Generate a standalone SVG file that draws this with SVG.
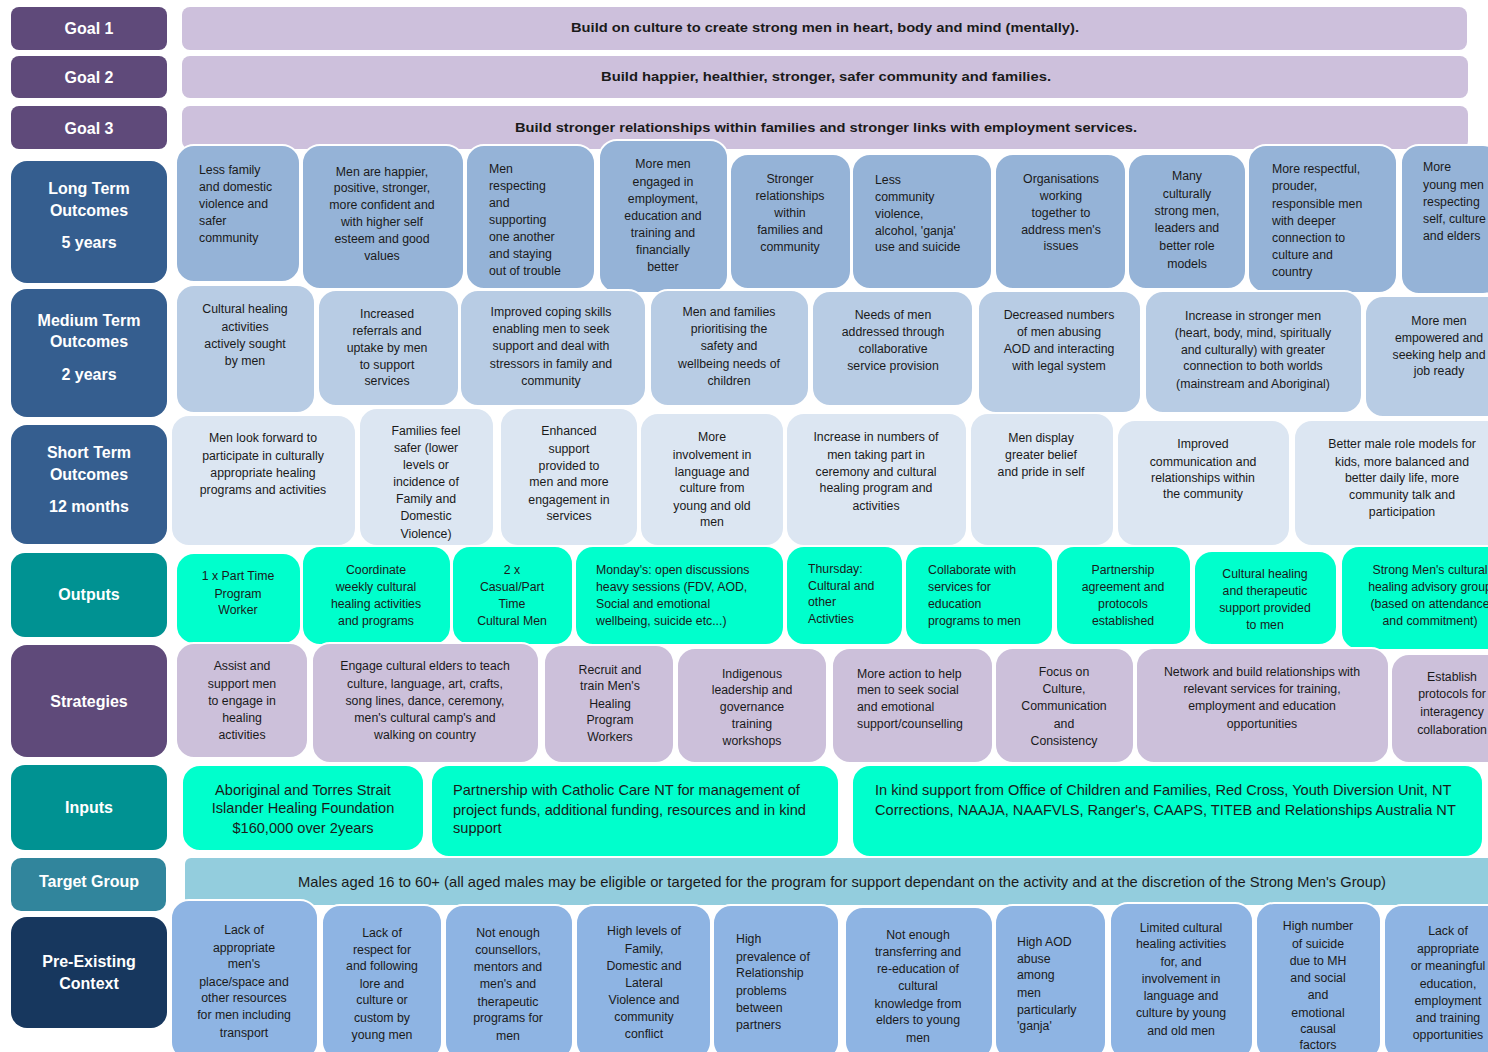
<svg xmlns="http://www.w3.org/2000/svg" width="1488" height="1052" viewBox="0 0 1488 1052">
<style>
text{font-family:"Liberation Sans",Arial,sans-serif;}
.h{fill:#fff;font-weight:bold;font-size:16px;text-anchor:middle;}
.g{font-weight:bold;font-size:13px;fill:#1a1a1a;text-anchor:middle;}
.t{font-size:12.3px;fill:#1a1a1a;}
.c{text-anchor:middle;}
.i{font-size:14.6px;fill:#1a1a1a;}
.hp{fill:#5f4a7a;}
.hb{fill:#355e8f;}
.ht{fill:#009292;}
.htg{fill:#31859c;}
.hn{fill:#17375e;}
.gb{fill:#cdc0dc;}
.lt{fill:#95b3d7;stroke:#fff;stroke-width:2;}
.mt{fill:#b8cce4;stroke:#fff;stroke-width:2;}
.st{fill:#dce6f2;stroke:#fff;stroke-width:2;}
.op{fill:#00ffcc;stroke:#fff;stroke-width:2;}
.sg{fill:#ccc0da;stroke:#fff;stroke-width:2;}
.tg{fill:#93cddd;}
.pc{fill:#8eb4e3;stroke:#fff;stroke-width:2;}
</style>
<rect width="1488" height="1052" fill="#fff"/>
<g id="connectors"></g>

<!-- Headers -->
<g id="h-goal1"><rect class="hp" x="11" y="7" width="156" height="43" rx="8"/><text class="h" x="89" y="34" font-size="15">Goal 1</text></g>
<g id="h-goal2"><rect class="hp" x="11" y="56" width="156" height="42" rx="8"/><text class="h" x="89" y="83" font-size="15">Goal 2</text></g>
<g id="h-goal3"><rect class="hp" x="11" y="106" width="156" height="43" rx="8"/><text class="h" x="89" y="134" font-size="15">Goal 3</text></g>
<g id="h-long"><rect class="hb" x="11" y="161" width="156" height="122" rx="16"/><text class="h"><tspan x="89" y="194">Long Term</tspan><tspan x="89" y="216">Outcomes</tspan><tspan x="89" y="248">5 years</tspan></text></g>
<g id="h-medium"><rect class="hb" x="11" y="289" width="156" height="128" rx="16"/><text class="h"><tspan x="89" y="326">Medium Term</tspan><tspan x="89" y="347">Outcomes</tspan><tspan x="89" y="380">2 years</tspan></text></g>
<g id="h-short"><rect class="hb" x="11" y="425" width="156" height="119" rx="16"/><text class="h"><tspan x="89" y="458">Short Term</tspan><tspan x="89" y="480">Outcomes</tspan><tspan x="89" y="512">12 months</tspan></text></g>
<g id="h-outputs"><rect class="ht" x="11" y="553" width="156" height="84" rx="14"/><text class="h" x="89" y="600">Outputs</text></g>
<g id="h-strategies"><rect class="hp" x="11" y="645" width="156" height="112" rx="16"/><text class="h" x="89" y="707">Strategies</text></g>
<g id="h-inputs"><rect class="ht" x="11" y="765" width="156" height="85" rx="14"/><text class="h" x="89" y="813">Inputs</text></g>
<g id="h-target"><rect class="htg" x="11" y="858" width="155" height="53" rx="10"/><text class="h" x="89" y="887">Target Group</text></g>
<g id="h-context"><rect class="hn" x="11" y="917" width="156" height="111" rx="16"/><text class="h"><tspan x="89" y="967">Pre-Existing</tspan><tspan x="89" y="989">Context</tspan></text></g>

<!-- Goals -->
<g id="goal1"><rect class="gb" x="182" y="7" width="1285" height="43" rx="8"/><text class="g" x="825" y="32" textLength="508" lengthAdjust="spacingAndGlyphs">Build on culture to create strong men in heart, body and mind (mentally).</text></g>
<g id="goal2"><rect class="gb" x="182" y="56" width="1286" height="42" rx="8"/><text class="g" x="826" y="81" textLength="450" lengthAdjust="spacingAndGlyphs">Build happier, healthier, stronger, safer community and families.</text></g>
<g id="goal3"><rect class="gb" x="182" y="106" width="1286" height="43" rx="8"/><text class="g" x="826" y="132" textLength="622" lengthAdjust="spacingAndGlyphs">Build stronger relationships within families and stronger links with employment services.</text></g>

<!-- Long term outcomes -->
<g id="lt1"><rect class="lt" x="176" y="145" width="124" height="137" rx="18"/><text class="t"><tspan x="199" y="174">Less family</tspan><tspan x="199" y="191">and domestic</tspan><tspan x="199" y="208">violence and</tspan><tspan x="199" y="225">safer</tspan><tspan x="199" y="242">community</tspan></text></g>
<g id="lt2"><rect class="lt" x="302" y="145" width="162" height="144" rx="18"/><text class="t c"><tspan x="382" y="176">Men are happier,</tspan><tspan x="382" y="192">positive, stronger,</tspan><tspan x="382" y="209">more confident and</tspan><tspan x="382" y="226">with higher self</tspan><tspan x="382" y="243">esteem and good</tspan><tspan x="382" y="260">values</tspan></text></g>
<g id="lt3"><rect class="lt" x="466" y="145" width="129" height="144" rx="18"/><text class="t"><tspan x="489" y="173">Men</tspan><tspan x="489" y="190">respecting</tspan><tspan x="489" y="207">and</tspan><tspan x="489" y="224">supporting</tspan><tspan x="489" y="241">one another</tspan><tspan x="489" y="258">and staying</tspan><tspan x="489" y="275">out of trouble</tspan></text></g>
<g id="lt4"><rect class="lt" x="599" y="140" width="129" height="153" rx="18"/><text class="t c"><tspan x="663" y="168">More men</tspan><tspan x="663" y="186">engaged in</tspan><tspan x="663" y="203">employment,</tspan><tspan x="663" y="220">education and</tspan><tspan x="663" y="237">training and</tspan><tspan x="663" y="254">financially</tspan><tspan x="663" y="271">better</tspan></text></g>
<g id="lt5"><rect class="lt" x="730" y="154" width="121" height="135" rx="18"/><text class="t c"><tspan x="790" y="183">Stronger</tspan><tspan x="790" y="200">relationships</tspan><tspan x="790" y="217">within</tspan><tspan x="790" y="234">families and</tspan><tspan x="790" y="251">community</tspan></text></g>
<g id="lt6"><rect class="lt" x="852" y="154" width="140" height="135" rx="18"/><text class="t"><tspan x="875" y="184">Less</tspan><tspan x="875" y="201">community</tspan><tspan x="875" y="218">violence,</tspan><tspan x="875" y="235">alcohol, 'ganja'</tspan><tspan x="875" y="251">use and suicide</tspan></text></g>
<g id="lt7"><rect class="lt" x="995" y="154" width="131" height="135" rx="18"/><text class="t c"><tspan x="1061" y="183">Organisations</tspan><tspan x="1061" y="200">working</tspan><tspan x="1061" y="217">together to</tspan><tspan x="1061" y="234">address men's</tspan><tspan x="1061" y="250">issues</tspan></text></g>
<g id="lt8"><rect class="lt" x="1128" y="154" width="118" height="135" rx="18"/><text class="t c"><tspan x="1187" y="180">Many</tspan><tspan x="1187" y="198">culturally</tspan><tspan x="1187" y="215">strong men,</tspan><tspan x="1187" y="232">leaders and</tspan><tspan x="1187" y="250">better role</tspan><tspan x="1187" y="268">models</tspan></text></g>
<g id="lt9"><rect class="lt" x="1248" y="145" width="149" height="148" rx="18"/><text class="t"><tspan x="1272" y="173">More respectful,</tspan><tspan x="1272" y="190">prouder,</tspan><tspan x="1272" y="208">responsible men</tspan><tspan x="1272" y="225">with deeper</tspan><tspan x="1272" y="242">connection to</tspan><tspan x="1272" y="259">culture and</tspan><tspan x="1272" y="276">country</tspan></text></g>
<g id="lt10"><rect class="lt" x="1401" y="145" width="100" height="149" rx="18"/><text class="t"><tspan x="1423" y="171">More</tspan><tspan x="1423" y="189">young men</tspan><tspan x="1423" y="206">respecting</tspan><tspan x="1423" y="223">self, culture</tspan><tspan x="1423" y="240">and elders</tspan></text></g>

<!-- Medium term outcomes -->
<g id="mt1"><rect class="mt" x="176" y="285" width="139" height="128" rx="18"/><text class="t c"><tspan x="245" y="313">Cultural healing</tspan><tspan x="245" y="331">activities</tspan><tspan x="245" y="348">actively sought</tspan><tspan x="245" y="365">by men</tspan></text></g>
<g id="mt2"><rect class="mt" x="318" y="290" width="141" height="116" rx="18"/><text class="t c"><tspan x="387" y="318">Increased</tspan><tspan x="387" y="335">referrals and</tspan><tspan x="387" y="352">uptake by men</tspan><tspan x="387" y="369">to support</tspan><tspan x="387" y="385">services</tspan></text></g>
<g id="mt3"><rect class="mt" x="460" y="290" width="186" height="116" rx="18"/><text class="t c"><tspan x="551" y="316">Improved coping skills</tspan><tspan x="551" y="333">enabling men to seek</tspan><tspan x="551" y="350">support and deal with</tspan><tspan x="551" y="368">stressors in family and</tspan><tspan x="551" y="385">community</tspan></text></g>
<g id="mt4"><rect class="mt" x="650" y="290" width="159" height="116" rx="18"/><text class="t c"><tspan x="729" y="316">Men and families</tspan><tspan x="729" y="333">prioritising the</tspan><tspan x="729" y="350">safety and</tspan><tspan x="729" y="368">wellbeing needs of</tspan><tspan x="729" y="385">children</tspan></text></g>
<g id="mt5"><rect class="mt" x="812" y="291" width="161" height="115" rx="18"/><text class="t c"><tspan x="893" y="319">Needs of men</tspan><tspan x="893" y="336">addressed through</tspan><tspan x="893" y="353">collaborative</tspan><tspan x="893" y="370">service provision</tspan></text></g>
<g id="mt6"><rect class="mt" x="978" y="291" width="163" height="122" rx="18"/><text class="t c"><tspan x="1059" y="319">Decreased numbers</tspan><tspan x="1059" y="336">of men abusing</tspan><tspan x="1059" y="353">AOD and interacting</tspan><tspan x="1059" y="370">with legal system</tspan></text></g>
<g id="mt7"><rect class="mt" x="1145" y="291" width="217" height="122" rx="18"/><text class="t c"><tspan x="1253" y="320">Increase in stronger men</tspan><tspan x="1253" y="337">(heart, body, mind, spiritually</tspan><tspan x="1253" y="354">and culturally) with greater</tspan><tspan x="1253" y="370">connection to both worlds</tspan><tspan x="1253" y="388">(mainstream and Aboriginal)</tspan></text></g>
<g id="mt8"><rect class="mt" x="1365" y="296" width="140" height="121" rx="18"/><text class="t c"><tspan x="1439" y="325">More men</tspan><tspan x="1439" y="342">empowered and</tspan><tspan x="1439" y="359">seeking help and</tspan><tspan x="1439" y="375">job ready</tspan></text></g>

<!-- Short term outcomes -->
<g id="st1"><rect class="st" x="171" y="415" width="185" height="131" rx="18"/><text class="t c"><tspan x="263" y="442">Men look forward to</tspan><tspan x="263" y="460">participate in culturally</tspan><tspan x="263" y="477">appropriate healing</tspan><tspan x="263" y="494">programs and activities</tspan></text></g>
<g id="st2"><rect class="st" x="359" y="408" width="135" height="138" rx="18"/><text class="t c"><tspan x="426" y="435">Families feel</tspan><tspan x="426" y="452">safer (lower</tspan><tspan x="426" y="469">levels or</tspan><tspan x="426" y="486">incidence of</tspan><tspan x="426" y="503">Family and</tspan><tspan x="426" y="520">Domestic</tspan><tspan x="426" y="538">Violence)</tspan></text></g>
<g id="st3"><rect class="st" x="500" y="408" width="138" height="138" rx="18"/><text class="t c"><tspan x="569" y="435">Enhanced</tspan><tspan x="569" y="453">support</tspan><tspan x="569" y="470">provided to</tspan><tspan x="569" y="486">men and more</tspan><tspan x="569" y="504">engagement in</tspan><tspan x="569" y="520">services</tspan></text></g>
<g id="st4"><rect class="st" x="640" y="413" width="144" height="133" rx="18"/><text class="t c"><tspan x="712" y="441">More</tspan><tspan x="712" y="459">involvement in</tspan><tspan x="712" y="476">language and</tspan><tspan x="712" y="492">culture from</tspan><tspan x="712" y="510">young and old</tspan><tspan x="712" y="526">men</tspan></text></g>
<g id="st5"><rect class="st" x="786" y="413" width="181" height="133" rx="18"/><text class="t c"><tspan x="876" y="441">Increase in numbers of</tspan><tspan x="876" y="459">men taking part in</tspan><tspan x="876" y="476">ceremony and cultural</tspan><tspan x="876" y="492">healing program and</tspan><tspan x="876" y="510">activities</tspan></text></g>
<g id="st6"><rect class="st" x="970" y="413" width="144" height="133" rx="18"/><text class="t c"><tspan x="1041" y="442">Men display</tspan><tspan x="1041" y="459">greater belief</tspan><tspan x="1041" y="476">and pride in self</tspan></text></g>
<g id="st7"><rect class="st" x="1117" y="420" width="173" height="126" rx="18"/><text class="t c"><tspan x="1203" y="448">Improved</tspan><tspan x="1203" y="466">communication and</tspan><tspan x="1203" y="482">relationships within</tspan><tspan x="1203" y="498">the community</tspan></text></g>
<g id="st8"><rect class="st" x="1294" y="420" width="210" height="126" rx="18"/><text class="t c"><tspan x="1402" y="448">Better male role models for</tspan><tspan x="1402" y="466">kids, more balanced and</tspan><tspan x="1402" y="482">better daily life, more</tspan><tspan x="1402" y="499">community talk and</tspan><tspan x="1402" y="516">participation</tspan></text></g>

<!-- Outputs -->
<g id="op1"><rect class="op" x="176" y="553" width="125" height="91" rx="18"/><text class="t c"><tspan x="238" y="580">1 x Part Time</tspan><tspan x="238" y="598">Program</tspan><tspan x="238" y="614">Worker</tspan></text></g>
<g id="op2"><rect class="op" x="302" y="546" width="149" height="99" rx="18"/><text class="t c"><tspan x="376" y="574">Coordinate</tspan><tspan x="376" y="591">weekly cultural</tspan><tspan x="376" y="608">healing activities</tspan><tspan x="376" y="625">and programs</tspan></text></g>
<g id="op3"><rect class="op" x="452" y="546" width="121" height="99" rx="18"/><text class="t c"><tspan x="512" y="574">2 x</tspan><tspan x="512" y="591">Casual/Part</tspan><tspan x="512" y="608">Time</tspan><tspan x="512" y="625">Cultural Men</tspan></text></g>
<g id="op4"><rect class="op" x="575" y="546" width="209" height="99" rx="18"/><text class="t"><tspan x="596" y="574">Monday's: open discussions</tspan><tspan x="596" y="591">heavy sessions (FDV, AOD,</tspan><tspan x="596" y="608">Social and emotional</tspan><tspan x="596" y="625">wellbeing, suicide etc...)</tspan></text></g>
<g id="op5"><rect class="op" x="786" y="546" width="117" height="99" rx="18"/><text class="t"><tspan x="808" y="573">Thursday:</tspan><tspan x="808" y="590">Cultural and</tspan><tspan x="808" y="606">other</tspan><tspan x="808" y="623">Activties</tspan></text></g>
<g id="op6"><rect class="op" x="905" y="546" width="148" height="99" rx="18"/><text class="t"><tspan x="928" y="574">Collaborate with</tspan><tspan x="928" y="591">services for</tspan><tspan x="928" y="608">education</tspan><tspan x="928" y="625">programs to men</tspan></text></g>
<g id="op7"><rect class="op" x="1056" y="546" width="135" height="99" rx="18"/><text class="t c"><tspan x="1123" y="574">Partnership</tspan><tspan x="1123" y="591">agreement and</tspan><tspan x="1123" y="608">protocols</tspan><tspan x="1123" y="625">established</tspan></text></g>
<g id="op8"><rect class="op" x="1194" y="551" width="143" height="94" rx="18"/><text class="t c"><tspan x="1265" y="578">Cultural healing</tspan><tspan x="1265" y="595">and therapeutic</tspan><tspan x="1265" y="612">support provided</tspan><tspan x="1265" y="629">to men</tspan></text></g>
<g id="op9"><rect class="op" x="1341" y="546" width="165" height="104" rx="18"/><text class="t c"><tspan x="1430" y="574">Strong Men's cultural</tspan><tspan x="1430" y="591">healing advisory group</tspan><tspan x="1430" y="608">(based on attendance</tspan><tspan x="1430" y="625">and commitment)</tspan></text></g>

<!-- Strategies -->
<g id="sg1"><rect class="sg" x="176" y="643" width="132" height="115" rx="18"/><text class="t c"><tspan x="242" y="670">Assist and</tspan><tspan x="242" y="688">support men</tspan><tspan x="242" y="705">to engage in</tspan><tspan x="242" y="722">healing</tspan><tspan x="242" y="739">activities</tspan></text></g>
<g id="sg2"><rect class="sg" x="312" y="643" width="227" height="120" rx="18"/><text class="t c"><tspan x="425" y="670">Engage cultural elders to teach</tspan><tspan x="425" y="688">culture, language, art, crafts,</tspan><tspan x="425" y="705">song lines, dance, ceremony,</tspan><tspan x="425" y="722">men's cultural camp's and</tspan><tspan x="425" y="739">walking on country</tspan></text></g>
<g id="sg3"><rect class="sg" x="544" y="645" width="130" height="118" rx="18"/><text class="t c"><tspan x="610" y="674">Recruit and</tspan><tspan x="610" y="690">train Men's</tspan><tspan x="610" y="708">Healing</tspan><tspan x="610" y="724">Program</tspan><tspan x="610" y="741">Workers</tspan></text></g>
<g id="sg4"><rect class="sg" x="677" y="648" width="150" height="115" rx="18"/><text class="t c"><tspan x="752" y="678">Indigenous</tspan><tspan x="752" y="694">leadership and</tspan><tspan x="752" y="711">governance</tspan><tspan x="752" y="728">training</tspan><tspan x="752" y="745">workshops</tspan></text></g>
<g id="sg5"><rect class="sg" x="832" y="648" width="161" height="115" rx="18"/><text class="t"><tspan x="857" y="678">More action to help</tspan><tspan x="857" y="694">men to seek social</tspan><tspan x="857" y="711">and emotional</tspan><tspan x="857" y="728">support/counselling</tspan></text></g>
<g id="sg6"><rect class="sg" x="995" y="648" width="139" height="115" rx="18"/><text class="t c"><tspan x="1064" y="676">Focus on</tspan><tspan x="1064" y="693">Culture,</tspan><tspan x="1064" y="710">Communication</tspan><tspan x="1064" y="728">and</tspan><tspan x="1064" y="745">Consistency</tspan></text></g>
<g id="sg7"><rect class="sg" x="1136" y="648" width="253" height="115" rx="18"/><text class="t c"><tspan x="1262" y="676">Network and build relationships with</tspan><tspan x="1262" y="693">relevant services for training,</tspan><tspan x="1262" y="710">employment and education</tspan><tspan x="1262" y="728">opportunities</tspan></text></g>
<g id="sg8"><rect class="sg" x="1391" y="654" width="115" height="109" rx="18"/><text class="t c"><tspan x="1452" y="681">Establish</tspan><tspan x="1452" y="698">protocols for</tspan><tspan x="1452" y="716">interagency</tspan><tspan x="1452" y="734">collaboration</tspan></text></g>

<!-- Inputs -->
<g id="in1"><rect class="op" x="182" y="765" width="242" height="86" rx="18"/><text class="i c"><tspan x="303" y="795">Aboriginal and Torres Strait</tspan><tspan x="303" y="813">Islander Healing Foundation</tspan><tspan x="303" y="833">$160,000 over 2years</tspan></text></g>
<g id="in2"><rect class="op" x="431" y="765" width="408" height="92" rx="18"/><text class="i"><tspan x="453" y="795">Partnership with Catholic Care NT for management of</tspan><tspan x="453" y="815">project funds, additional funding, resources and in kind</tspan><tspan x="453" y="833">support</tspan></text></g>
<g id="in3"><rect class="op" x="852" y="765" width="631" height="92" rx="18"/><text class="i"><tspan x="875" y="795">In kind support from Office of Children and Families, Red Cross, Youth Diversion Unit, NT</tspan><tspan x="875" y="815">Corrections, NAAJA, NAAFVLS, Ranger's, CAAPS, TITEB and Relationships Australia NT</tspan></text></g>

<!-- Target group -->
<g id="target"><rect class="tg" x="185" y="858" width="1310" height="47" rx="6"/><text class="i" x="298" y="887" textLength="1088" lengthAdjust="spacingAndGlyphs">Males aged 16 to 60+ (all aged males may be eligible or targeted for the program for support dependant on the activity and at the discretion of the Strong Men's Group)</text></g>

<!-- Pre-existing context -->
<g id="pc1"><rect class="pc" x="171" y="900" width="147" height="160" rx="18"/><text class="t c"><tspan x="244" y="934">Lack of</tspan><tspan x="244" y="952">appropriate</tspan><tspan x="244" y="968">men's</tspan><tspan x="244" y="986">place/space and</tspan><tspan x="244" y="1002">other resources</tspan><tspan x="244" y="1019">for men including</tspan><tspan x="244" y="1037">transport</tspan></text></g>
<g id="pc2"><rect class="pc" x="322" y="905" width="120" height="155" rx="18"/><text class="t c"><tspan x="382" y="937">Lack of</tspan><tspan x="382" y="954">respect for</tspan><tspan x="382" y="970">and following</tspan><tspan x="382" y="988">lore and</tspan><tspan x="382" y="1004">culture or</tspan><tspan x="382" y="1022">custom by</tspan><tspan x="382" y="1039">young men</tspan></text></g>
<g id="pc3"><rect class="pc" x="445" y="905" width="128" height="155" rx="18"/><text class="t c"><tspan x="508" y="937">Not enough</tspan><tspan x="508" y="954">counsellors,</tspan><tspan x="508" y="971">mentors and</tspan><tspan x="508" y="988">men's and</tspan><tspan x="508" y="1006">therapeutic</tspan><tspan x="508" y="1022">programs for</tspan><tspan x="508" y="1040">men</tspan></text></g>
<g id="pc4"><rect class="pc" x="576" y="905" width="135" height="155" rx="18"/><text class="t c"><tspan x="644" y="935">High levels of</tspan><tspan x="644" y="953">Family,</tspan><tspan x="644" y="970">Domestic  and</tspan><tspan x="644" y="987">Lateral</tspan><tspan x="644" y="1004">Violence and</tspan><tspan x="644" y="1021">community</tspan><tspan x="644" y="1038">conflict</tspan></text></g>
<g id="pc5"><rect class="pc" x="713" y="905" width="126" height="155" rx="18"/><text class="t"><tspan x="736" y="943">High</tspan><tspan x="736" y="961">prevalence of</tspan><tspan x="736" y="977">Relationship</tspan><tspan x="736" y="995">problems</tspan><tspan x="736" y="1012">between</tspan><tspan x="736" y="1029">partners</tspan></text></g>
<g id="pc6"><rect class="pc" x="845" y="907" width="148" height="153" rx="18"/><text class="t c"><tspan x="918" y="939">Not enough</tspan><tspan x="918" y="956">transferring and</tspan><tspan x="918" y="973">re-education of</tspan><tspan x="918" y="990">cultural</tspan><tspan x="918" y="1008">knowledge from</tspan><tspan x="918" y="1024">elders to young</tspan><tspan x="918" y="1042">men</tspan></text></g>
<g id="pc7"><rect class="pc" x="995" y="905" width="111" height="155" rx="18"/><text class="t"><tspan x="1017" y="946">High AOD</tspan><tspan x="1017" y="963">abuse</tspan><tspan x="1017" y="979">among</tspan><tspan x="1017" y="997">men</tspan><tspan x="1017" y="1014">particularly</tspan><tspan x="1017" y="1030">'ganja'</tspan></text></g>
<g id="pc8"><rect class="pc" x="1110" y="903" width="143" height="157" rx="18"/><text class="t c"><tspan x="1181" y="932">Limited cultural</tspan><tspan x="1181" y="948">healing activities</tspan><tspan x="1181" y="966">for, and</tspan><tspan x="1181" y="983">involvement in</tspan><tspan x="1181" y="1000">language and</tspan><tspan x="1181" y="1017">culture by young</tspan><tspan x="1181" y="1035">and old men</tspan></text></g>
<g id="pc9"><rect class="pc" x="1256" y="903" width="125" height="157" rx="18"/><text class="t c"><tspan x="1318" y="930">High number</tspan><tspan x="1318" y="948">of suicide</tspan><tspan x="1318" y="965">due to MH</tspan><tspan x="1318" y="982">and social</tspan><tspan x="1318" y="999">and</tspan><tspan x="1318" y="1017">emotional</tspan><tspan x="1318" y="1033">causal</tspan><tspan x="1318" y="1049">factors</tspan></text></g>
<g id="pc10"><rect class="pc" x="1384" y="905" width="120" height="155" rx="18"/><text class="t c"><tspan x="1448" y="935">Lack of</tspan><tspan x="1448" y="953">appropriate</tspan><tspan x="1448" y="970">or meaningful</tspan><tspan x="1448" y="988">education,</tspan><tspan x="1448" y="1005">employment</tspan><tspan x="1448" y="1022">and training</tspan><tspan x="1448" y="1039">opportunities</tspan></text></g>
</svg>
